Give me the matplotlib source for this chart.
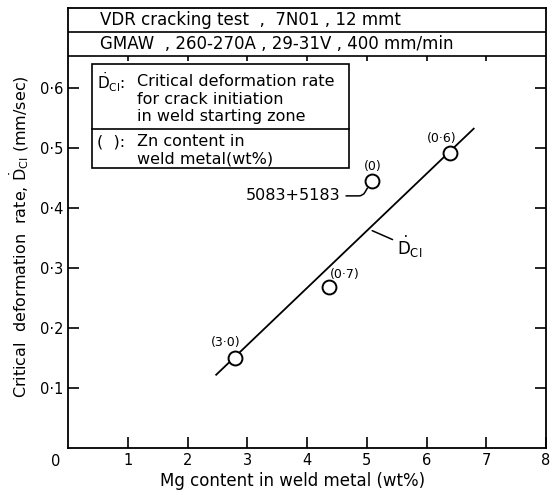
import matplotlib.pyplot as plt
from matplotlib.patches import Rectangle

# data
mg = [2.8, 4.36, 5.08, 6.39]
dci = [0.15, 0.268, 0.445, 0.492]
zn_labels = ['(3·0)', '(0·7)', '(0)', '(0·6)']
label_offsets = [(-7, 11), (12, 9), (1, 10), (-6, 10)]
fit_x = [2.48, 6.79]
fit_y = [0.122, 0.532]

xticks = [1, 2, 3, 4, 5, 6, 7, 8]
yticks = [0.1, 0.2, 0.3, 0.4, 0.5, 0.6]
ytick_labels = ['0·1', '0·2', '0·3', '0·4', '0·5', '0·6']

header1 = 'VDR cracking test  ,  7N01 , 12 mmt'
header2 = 'GMAW  , 260-270A , 29-31V , 400 mm/min'

fig = plt.figure(figsize=(5.52, 4.95), dpi=100)
ax = fig.add_axes([68/552, 47/495, 478/552, 440/495])
ax.set_xlim(0, 8)
ax.set_ylim(0, 0.733)

for s in ax.spines.values():
    s.set_linewidth(1.3)

ax.set_xticks(xticks)
ax.set_xticklabels([str(t) for t in xticks], fontsize=10.5)
ax.set_yticks(yticks)
ax.set_yticklabels(ytick_labels, fontsize=10.5)
ax.tick_params(axis='both', direction='in', length=8, width=1.2)
ax.tick_params(axis='y', right=True)
ax.text(-0.2, -0.01, '0', ha='center', va='top', fontsize=10.5)

ax.set_xlabel('Mg content in weld metal (wt%)', fontsize=12)
ax.xaxis.set_label_coords(0.47, -0.055)
ax.set_ylabel(r'Critical  deformation  rate, $\dot{\mathrm{D}}_{\mathrm{CI}}$ (mm/sec)',
              fontsize=11.5)
ax.yaxis.set_label_coords(-0.077, 0.48)

# header rows
ax.axhline(0.693, color='black', lw=1.2)
ax.axhline(0.653, color='black', lw=1.2)
ax.vlines(xticks[:-1], 0.645, 0.653, color='black', lw=1.2)
ax.text(0.54, 0.713, header1, fontsize=12, va='center')
ax.text(0.54, 0.673, header2, fontsize=12, va='center')

# legend box
ax.add_patch(Rectangle((0.40, 0.467), 4.31, 0.173, fill=False, lw=1.2, zorder=3))
ax.plot([0.40, 4.71], [0.532, 0.532], color='black', lw=1.2)
ax.text(0.48, 0.61, r'$\dot{\mathrm{D}}_{\mathrm{CI}}$:', fontsize=11, va='center')
ax.text(1.16, 0.61, 'Critical deformation rate', fontsize=11.5, va='center')
ax.text(1.16, 0.581, 'for crack initiation', fontsize=11.5, va='center')
ax.text(1.16, 0.552, 'in weld starting zone', fontsize=11.5, va='center')
ax.text(0.48, 0.51, '(  ):', fontsize=11.5, va='center')
ax.text(1.16, 0.51, 'Zn content in', fontsize=11.5, va='center')
ax.text(1.16, 0.482, 'weld metal(wt%)', fontsize=11.5, va='center')

# fitted line and points
ax.plot(fit_x, fit_y, color='black', lw=1.3)
ax.plot(mg, dci, 'o', ms=10, mfc='white', mec='black', mew=1.4, zorder=4)
for x, y, lab, off in zip(mg, dci, zn_labels, label_offsets):
    ax.annotate(lab, (x, y), xytext=off, textcoords='offset points',
                ha='center', va='center', fontsize=9)

ax.annotate('5083+5183', (mg[2], dci[2]), xytext=(4.56, 0.42),
            ha='right', va='center', fontsize=11.5,
            arrowprops=dict(arrowstyle='-', lw=1.1, shrinkA=2, shrinkB=6,
                            connectionstyle='angle,angleA=0,angleB=60,rad=4'))
ax.annotate(r'$\dot{\mathrm{D}}_{\mathrm{CI}}$', (5.07, 0.363), xytext=(5.5, 0.335),
            ha='left', va='center', fontsize=12,
            arrowprops=dict(arrowstyle='-', lw=1.1, shrinkA=1, shrinkB=1))

fig.savefig('out.png', dpi=100)
